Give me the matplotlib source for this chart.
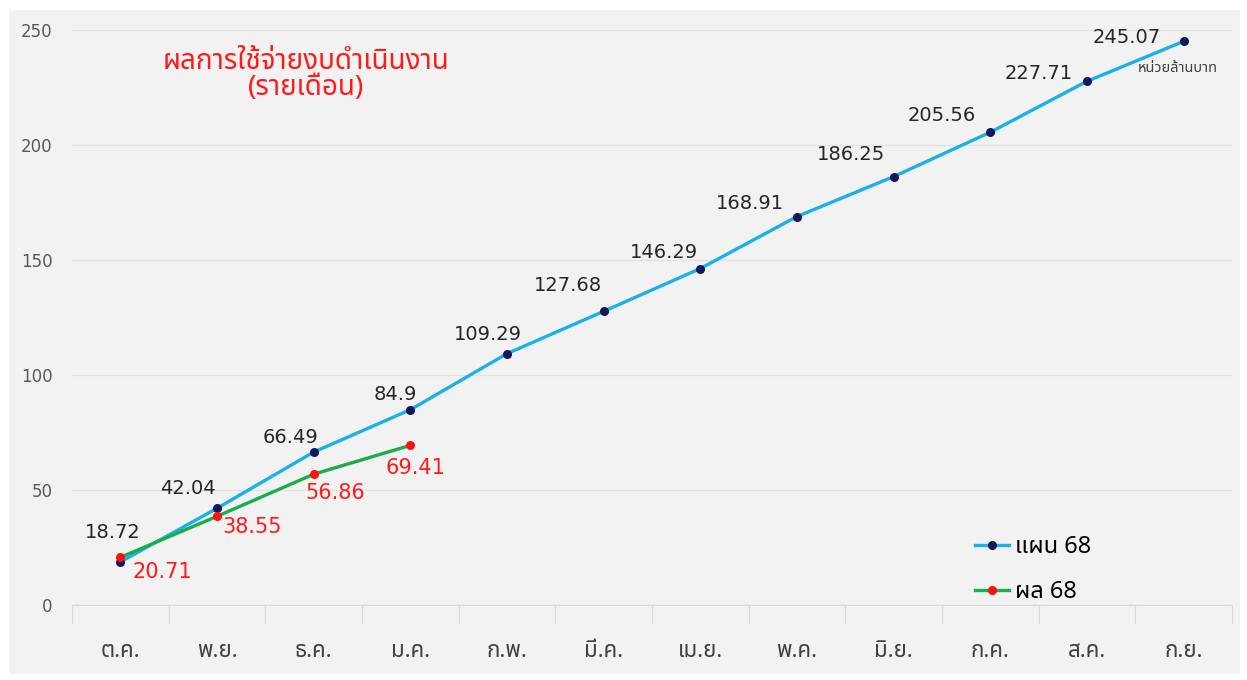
import matplotlib
matplotlib.use("Agg")
from matplotlib import pyplot as plt
from matplotlib import font_manager
from matplotlib.patches import Rectangle

months = ["ต.ค.", "พ.ย.", "ธ.ค.", "ม.ค.", "ก.พ.", "มี.ค.", "เม.ย.", "พ.ค.", "มิ.ย.", "ก.ค.", "ส.ค.", "ก.ย."]
plan_68 = [18.72, 42.04, 66.49, 84.9, 109.29, 127.68, 146.29, 168.91, 186.25, 205.56, 227.71, 245.07]
actual_68 = [20.71, 38.55, 56.86, 69.41]
plan_name = "แผน 68"
actual_name = "ผล 68"
title_text = "ผลการใช้จ่ายงบดำเนินงาน\n(รายเดือน)"
unit_text = "หน่วยล้านบาท"
y_ticks = [0, 50, 100, 150, 200, 250]

# label offsets in pixels (dx, dy), screen coords with y down
plan_offsets = [(-8, -29), (-29, -20), (-23, -15), (-15, -15), (-19, -19), (-36, -26),
                (-36, -16), (-47, -13), (-43, -22), (-49, -17), (-48, -8), (-57, -4)]
actual_offsets = [(42, 15), (35, 11), (22, 19), (5, 23)]

installed = {f.name for f in font_manager.fontManager.ttflist}
thai = next((n for n in ["Noto Sans Thai", "Noto Sans Thai Looped", "IBM Plex Sans Thai Looped",
                         "Sarabun", "Kanit"] if n in installed), "DejaVu Sans")
plt.rcParams["font.family"] = ["DejaVu Sans", thai]
THAI = [thai, "DejaVu Sans"]

W, H = 1247, 680
fig = plt.figure(figsize=(W / 100, H / 100), dpi=100)
fig.patch.set_facecolor("white")
fig.add_artist(Rectangle((9 / W, 6 / H), 1231 / W, 664 / H, transform=fig.transFigure,
                         facecolor="#f2f2f2", edgecolor="none", zorder=-10))

ax = fig.add_axes([72 / W, (H - 605) / H, 1160 / W, 575 / H])
ax.set_facecolor("none")
ax.set_zorder(1)
x = list(range(len(months)))

ax.plot(x, plan_68, color="#1ab0e8", lw=2.4, marker="o", ms=5.5, mfc="#14185a", mec="#14185a",
        label=plan_name, zorder=3, clip_on=False)
ax.plot(x[:len(actual_68)], actual_68, color="#1aae4a", lw=2.4, marker="o", ms=5.5, mfc="#ff1010",
        mec="#ff1010", label=actual_name, zorder=4, clip_on=False)

px = 0.72  # points per pixel
for i, v in enumerate(plan_68):
    dx, dy = plan_offsets[i]
    ax.annotate(f"{v:g}", (i, v), xytext=(dx * px, -dy * px), textcoords="offset points",
                ha="center", va="center", fontsize=14, color="#262626")
for i, v in enumerate(actual_68):
    dx, dy = actual_offsets[i]
    ax.annotate(f"{v:g}", (i, v), xytext=(dx * px, -dy * px), textcoords="offset points",
                ha="center", va="center", fontsize=15, color="#ff1a1a")

ax.set_xlim(-0.5, len(months) - 0.5)
ax.set_ylim(0, 250)
ax.set_xticks(x)
ax.set_xticklabels(months, fontsize=16, color="#404040", family=THAI)
ax.set_xticks([i - 0.5 for i in range(len(months) + 1)], minor=True)
ax.tick_params(axis="x", which="major", length=0, pad=26)
ax.tick_params(axis="x", which="minor", length=14, width=0.8, color="#d9d9d9")
ax.set_yticks(y_ticks)
ax.tick_params(axis="y", length=0, pad=14, labelsize=12, labelcolor="#595959")
ax.grid(axis="y", color="#e2e2e2", lw=0.9)
ax.set_axisbelow(True)
for s in ["top", "right", "left"]:
    ax.spines[s].set_visible(False)
ax.spines["bottom"].set_color("#d9d9d9")

fig.text(306 / W, 1 - 75 / H, title_text, ha="center", va="center", fontsize=20,
         color="#ff1a1a", linespacing=0.95, family=THAI)
fig.text(1178 / W, 1 - 68 / H, unit_text, ha="center", va="center", fontsize=10.5,
         color="#404040", family=THAI)

ax.legend(loc="upper left", bbox_to_anchor=((975 - 72) / 1160, (605 - 535) / 575), frameon=False,
          prop={"family": THAI, "size": 17}, handlelength=1.45, labelspacing=0.88,
          handletextpad=0.25, borderpad=0, borderaxespad=0)

fig.savefig("out.png", dpi=100, facecolor="white")
